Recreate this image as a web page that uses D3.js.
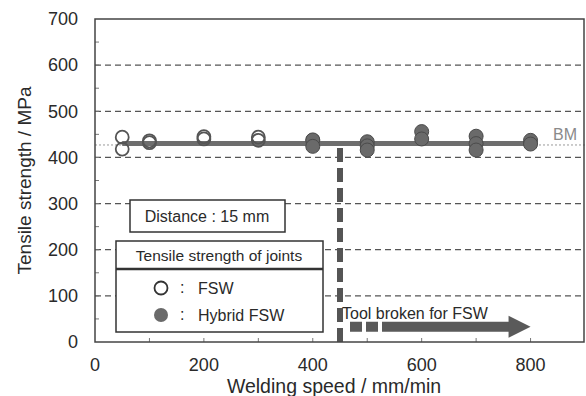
<!DOCTYPE html>
<meta charset="utf-8">
<script src="https://d3js.org/d3.v7.min.js"></script>
<style>
  body { margin: 0; background: #fff; }
  text { font-family: "Liberation Sans", Arial, sans-serif; fill: #2a2a2a; }
</style>
<body>
<div id="chart"></div>
<script>
// data (welding speed mm/min, tensile strength MPa)
var fswSpeed = [50, 50, 100, 100, 200, 200, 300, 300, 400];
var fswStrength = [444, 418, 432, 436, 445, 440, 444, 437, 437];
var hybSpeed = [400, 400, 500, 500, 500, 600, 600, 700, 700, 700, 800, 800];
var hybStrength = [438, 424, 434, 425, 416, 456, 440, 446, 430, 416, 437, 429];
var meanLine = [[50, 430], [800, 430]];
var bmStrength = 427;
var brokenSpeed = 450;
var arrowSpan = [450, 800];
var yTicks = [0, 100, 200, 300, 400, 500, 600, 700];
var xTicks = [0, 200, 400, 600, 800];
var gridLines = [100, 200, 300, 400, 500, 600];

var W = 586, H = 396;
var margin = {top: 19, right: 1, bottom: 54, left: 95},
    width = W - margin.left - margin.right,
    height = H - margin.top - margin.bottom;

var svg = d3.select("#chart").append("svg")
    .attr("width", W).attr("height", H);
var g = svg.append("g")
    .attr("transform", "translate(" + margin.left + "," + margin.top + ")");

var x = d3.scaleLinear().domain([0, 900]).range([0, width]);
var y = d3.scaleLinear().domain([0, 700]).range([height, 0]);

// dashed grid
g.selectAll(".grid").data(gridLines).enter().append("line")
  .attr("x1", 0).attr("x2", width)
  .attr("y1", function(d) { return y(d); }).attr("y2", function(d) { return y(d); })
  .attr("stroke", "#555").attr("stroke-width", 1.3).attr("stroke-dasharray", "6,4");

// minor ticks inside
g.selectAll(".ytk").data(d3.range(50, 700, 50)).enter().append("line")
  .attr("x1", 0).attr("x2", 4)
  .attr("y1", function(d) { return y(d); }).attr("y2", function(d) { return y(d); })
  .attr("stroke", "#777");
g.selectAll(".xtk").data(d3.range(100, 900, 100)).enter().append("line")
  .attr("x1", function(d) { return x(d); }).attr("x2", function(d) { return x(d); })
  .attr("y1", height).attr("y2", height - 4)
  .attr("stroke", "#777");

// BM line
g.append("line")
  .attr("x1", 0).attr("x2", width)
  .attr("y1", y(bmStrength)).attr("y2", y(bmStrength))
  .attr("stroke", "#999").attr("stroke-width", 1).attr("stroke-dasharray", "2,2");
g.append("text")
  .attr("x", width - 8).attr("y", y(bmStrength) - 5)
  .attr("text-anchor", "end").style("font-size", "16px").style("fill", "#8a8a8a")
  .text("BM");

// mean line
g.append("path")
  .datum(meanLine)
  .attr("d", d3.line().x(function(d) { return x(d[0]); }).y(function(d) { return y(d[1]); }))
  .attr("stroke", "#6e6e6e").attr("stroke-width", 5).attr("fill", "none");

// open circles: FSW
g.selectAll(".fsw").data(fswSpeed).enter().append("circle")
  .attr("cx", function(d) { return x(d); })
  .attr("cy", function(d, i) { return y(fswStrength[i]); })
  .attr("r", 6.5)
  .attr("fill", "none").attr("stroke", "#555").attr("stroke-width", 1.8);

// filled circles: hybrid FSW
g.selectAll(".hyb").data(hybSpeed).enter().append("circle")
  .attr("cx", function(d) { return x(d); })
  .attr("cy", function(d, i) { return y(hybStrength[i]); })
  .attr("r", 7)
  .attr("fill", "#6a6a6a").attr("stroke", "#4a4a4a").attr("stroke-width", 1);

// tool broken dashed line
g.append("line")
  .attr("x1", x(brokenSpeed)).attr("x2", x(brokenSpeed))
  .attr("y1", height).attr("y2", y(430))
  .attr("stroke", "#555").attr("stroke-width", 6).attr("stroke-dasharray", "14,6");

// arrow
var ay = y(33);
g.append("line")
  .attr("x1", x(arrowSpan[0]) + 10).attr("x2", x(arrowSpan[1]) - 18)
  .attr("y1", ay).attr("y2", ay)
  .attr("stroke", "#5a5a5a").attr("stroke-width", 10).attr("stroke-dasharray", "12,4,12,4,400");
g.append("path")
  .attr("d", "M" + (x(arrowSpan[1]) - 22) + "," + (ay - 11) +
        " L" + x(arrowSpan[1]) + "," + ay +
        " L" + (x(arrowSpan[1]) - 22) + "," + (ay + 11) + "Z")
  .attr("fill", "#5a5a5a");
g.append("text")
  .attr("x", x(arrowSpan[0]) + 2).attr("y", ay - 8)
  .style("font-size", "16px").text("Tool broken for FSW");

// frame
g.append("rect")
  .attr("width", width - 1).attr("height", height)
  .attr("fill", "none").attr("stroke", "#444").attr("stroke-width", 1.5);

// axis labels
g.selectAll(".ylab").data(yTicks).enter().append("text")
  .attr("x", -17).attr("y", function(d) { return y(d); }).attr("dy", "0.35em")
  .attr("text-anchor", "end").style("font-size", "18px")
  .text(function(d) { return d; });
g.selectAll(".xlab").data(xTicks).enter().append("text")
  .attr("x", function(d) { return x(d); }).attr("y", height + 29)
  .attr("text-anchor", "middle").style("font-size", "18px")
  .text(function(d) { return d; });

svg.append("text")
  .attr("transform", "translate(31," + (margin.top + height / 2) + ") rotate(-90)")
  .attr("text-anchor", "middle").style("font-size", "19px")
  .text("Tensile strength / MPa");
svg.append("text")
  .attr("x", 334).attr("y", 393)
  .attr("text-anchor", "middle").style("font-size", "19.5px")
  .text("Welding speed / mm/min");

// legend boxes (pixel layout)
var lg = svg.append("g");
lg.append("rect").attr("x", 130).attr("y", 200).attr("width", 155).attr("height", 32)
  .attr("fill", "#fff").attr("stroke", "#333").attr("stroke-width", 1.5);
lg.append("text").attr("x", 207).attr("y", 222).attr("text-anchor", "middle")
  .style("font-size", "16px").text("Distance : 15 mm");

lg.append("rect").attr("x", 116).attr("y", 241).attr("width", 207).attr("height", 91)
  .attr("fill", "#fff").attr("stroke", "#333").attr("stroke-width", 1.5);
lg.append("line").attr("x1", 116).attr("x2", 323).attr("y1", 269).attr("y2", 269)
  .attr("stroke", "#333").attr("stroke-width", 2.5);
lg.append("text").attr("x", 219).attr("y", 261).attr("text-anchor", "middle")
  .style("font-size", "15.5px").text("Tensile strength of joints");
lg.append("circle").attr("cx", 161).attr("cy", 288).attr("r", 6.5)
  .attr("fill", "none").attr("stroke", "#333").attr("stroke-width", 1.8);
lg.append("circle").attr("cx", 161).attr("cy", 315).attr("r", 7)
  .attr("fill", "#6a6a6a");
lg.append("text").attr("x", 180).attr("y", 293).style("font-size", "16px").text(":");
lg.append("text").attr("x", 180).attr("y", 320).style("font-size", "16px").text(":");
lg.append("text").attr("x", 198).attr("y", 294).style("font-size", "16px").text("FSW");
lg.append("text").attr("x", 198).attr("y", 321).style("font-size", "16px").text("Hybrid FSW");
</script>
</body>
